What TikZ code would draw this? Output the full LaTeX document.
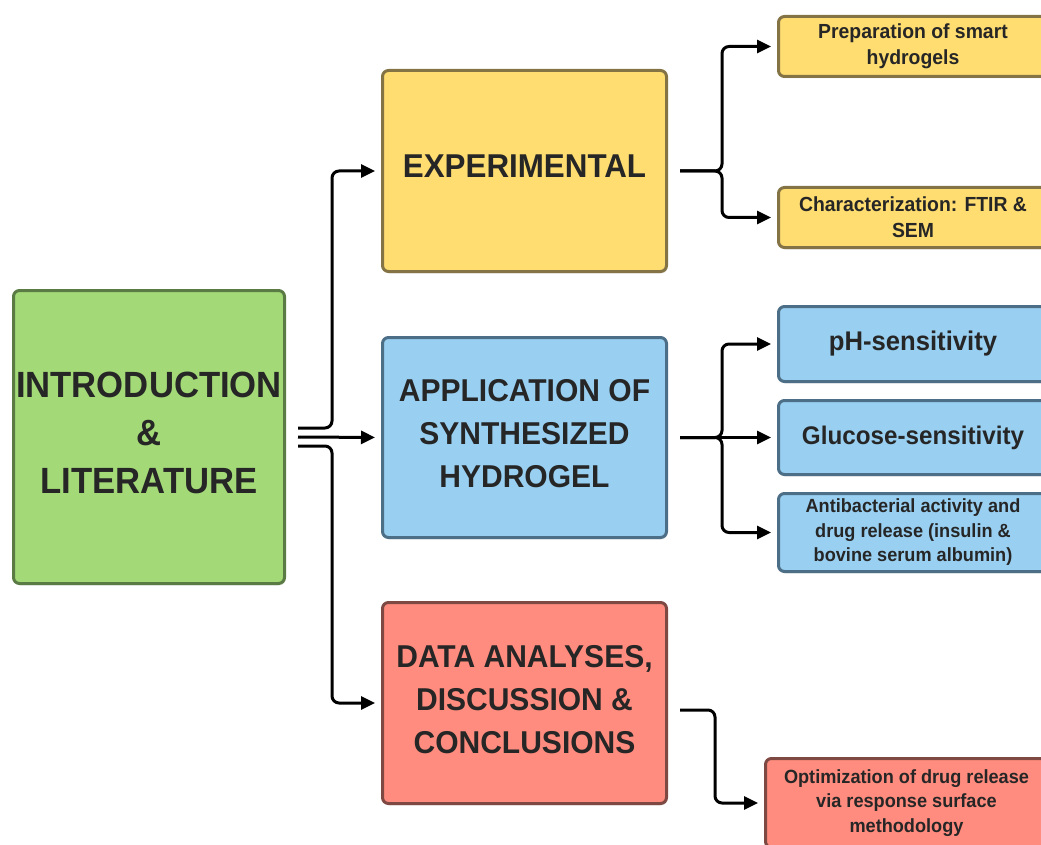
\documentclass[tikz,border=0pt]{standalone}
\usepackage{fontspec}
\setmainfont{Liberation Sans}[FakeStretch=0.95]
\usetikzlibrary{arrows.meta,shadows}
\definecolor{greenfill}{HTML}{A3D977}
\definecolor{greenline}{HTML}{5B7B45}
\definecolor{yellowfill}{HTML}{FFDD71}
\definecolor{yellowline}{HTML}{847445}
\definecolor{bluefill}{HTML}{99D0F2}
\definecolor{blueline}{HTML}{4D6E87}
\definecolor{redfill}{HTML}{FF8C7E}
\definecolor{redline}{HTML}{7E4943}
\definecolor{textdark}{HTML}{262626}
\begin{document}
\begin{tikzpicture}[x=1pt, y=-1pt,
    box/.style={draw, line width=3pt, rounded corners=6pt, align=center, inner sep=0pt,
        text=textdark, drop shadow={opacity=0.15, shadow xshift=1pt, shadow yshift=-2pt}},
    bigbox/.style={box, minimum width=284pt, minimum height=201pt, text depth=8pt,
        font=\fontsize{31.6}{43}\selectfont\bfseries},
    smallbox/.style={box, minimum width=269pt, font=\fontsize{19.1}{24.5}\selectfont\bfseries},
    greenbox/.style={fill=greenfill, draw=greenline},
    yellowbox/.style={fill=yellowfill, draw=yellowline},
    bluebox/.style={fill=bluefill, draw=blueline},
    redbox/.style={fill=redfill, draw=redline},
    conn/.style={line width=3pt, -{Triangle[length=14pt,width=13pt]}, shorten >=6pt, rounded corners=7pt}]
    \useasboundingbox (0,0) rectangle (1041,845);
    % main boxes
    \node[box, greenbox, minimum width=271pt, minimum height=293pt, text depth=9pt,
        font=\fontsize{36.5}{48}\selectfont\bfseries] (intro) at (149,437)
        {INTRODUCTION\\\&\\LITERATURE};
    \node[bigbox, yellowbox, text depth=10pt, font=\fontsize{33}{43}\selectfont\bfseries]
        (exp) at (524.5,171) {EXPERIMENTAL};
    \node[bigbox, bluebox, minimum height=200pt] (app) at (524.5,437.5)
        {APPLICATION OF\\SYNTHESIZED\\HYDROGEL};
    \node[bigbox, redbox] (data) at (524.5,703)
        {DATA ANALYSES,\\DISCUSSION \&\\CONCLUSIONS};
    % sub boxes
    \node[smallbox, yellowbox, minimum height=60pt, font=\fontsize{20.4}{26}\selectfont\bfseries]
        (prep) at (913,46.5) {Preparation of smart\\hydrogels};
    \node[smallbox, yellowbox, minimum height=60pt, font=\fontsize{20.4}{26}\selectfont\bfseries]
        (char) at (913,217.5) {Characterization: FTIR \&\\SEM};
    \node[smallbox, bluebox, minimum height=75pt, font=\fontsize{27}{30}\selectfont\bfseries]
        (ph) at (913,344) {pH-sensitivity};
    \node[smallbox, bluebox, minimum height=74pt, font=\fontsize{25.5}{30}\selectfont\bfseries]
        (gluc) at (913,437.5) {Glucose-sensitivity};
    \node[smallbox, bluebox, minimum height=78pt] (anti) at (913,532.5)
        {Antibacterial activity and\\drug release (insulin \&\\bovine serum albumin)};
    \node[smallbox, redbox, minimum width=282pt, minimum height=89pt] (opt) at (906.5,803)
        {Optimization of drug release\\via response surface\\methodology};
    % connectors
    \draw[conn] ([xshift=12pt,yshift=9pt]intro.east) -- ++(34pt,0) |- (exp.west);
    \draw[conn] ([xshift=12pt]intro.east) -- (app.west);
    \draw[conn] ([xshift=12pt,yshift=-9pt]intro.east) -- ++(34pt,0) |- (data.west);
    \draw[conn] ([xshift=12pt]exp.east) -- ++(42pt,0) |- (prep.west);
    \draw[conn] ([xshift=12pt]exp.east) -- ++(42pt,0) |- (char.west);
    \draw[conn] ([xshift=12pt]app.east) -- ++(42pt,0) |- (ph.west);
    \draw[conn] ([xshift=12pt]app.east) -- (gluc.west);
    \draw[conn] ([xshift=12pt]app.east) -- ++(42pt,0) |- (anti.west);
    \draw[conn] ([xshift=12pt,yshift=-7pt]data.east) -- ++(35pt,0) |- (opt.west);
\end{tikzpicture}
\end{document}
